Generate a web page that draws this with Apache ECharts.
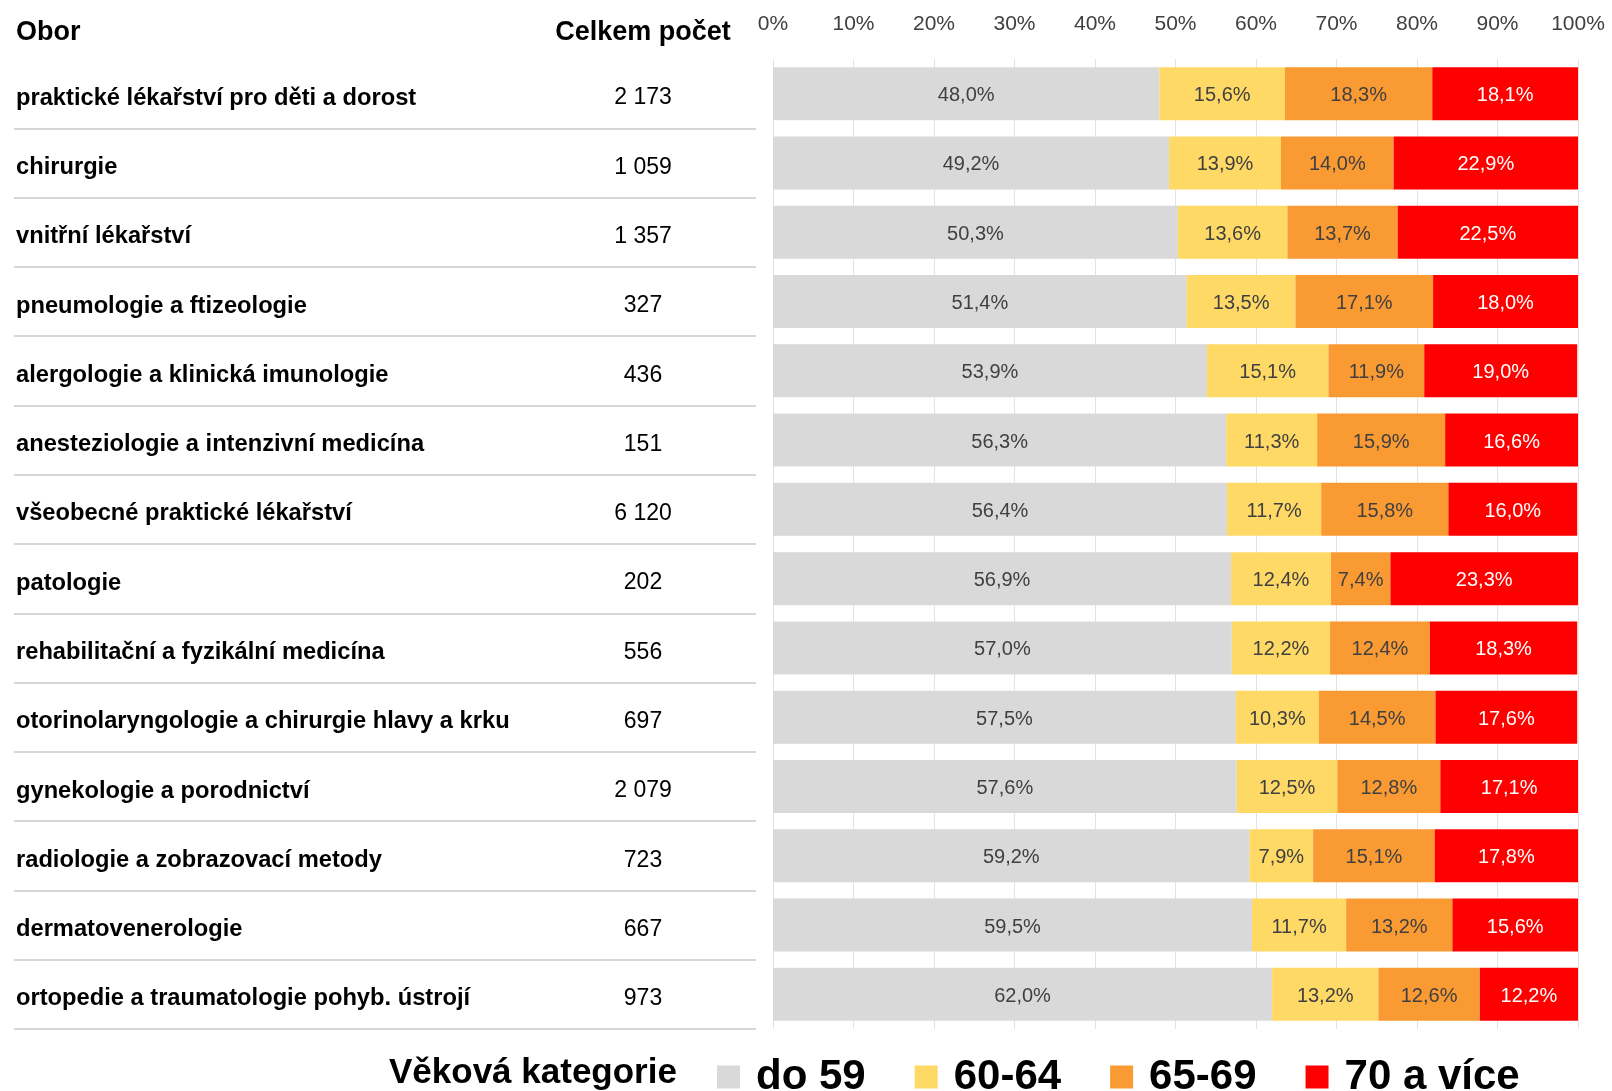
<!DOCTYPE html>
<html>
<head>
<meta charset="utf-8">
<title>Věková kategorie</title>
<script src="https://cdn.jsdelivr.net/npm/echarts@6/dist/echarts.min.js"></script>
<style>
	html, body { margin: 0; padding: 0; background: #fff; }
	#chart { width: 1612px; height: 1091px; }
</style>
</head>
<body>
<div id="chart"></div>
<script>
var obory = ['praktické lékařství pro děti a dorost', 'chirurgie', 'vnitřní lékařství', 'pneumologie a ftizeologie',
	'alergologie a klinická imunologie', 'anesteziologie a intenzivní medicína', 'všeobecné praktické lékařství',
	'patologie', 'rehabilitační a fyzikální medicína', 'otorinolaryngologie a chirurgie hlavy a krku',
	'gynekologie a porodnictví', 'radiologie a zobrazovací metody', 'dermatovenerologie',
	'ortopedie a traumatologie pohyb. ústrojí'];
var pocty = ['2 173', '1 059', '1 357', '327', '436', '151', '6 120', '202', '556', '697', '2 079', '723', '667', '973'];
var do59 = [48.0, 49.2, 50.3, 51.4, 53.9, 56.3, 56.4, 56.9, 57.0, 57.5, 57.6, 59.2, 59.5, 62.0];
var v6064 = [15.6, 13.9, 13.6, 13.5, 15.1, 11.3, 11.7, 12.4, 12.2, 10.3, 12.5, 7.9, 11.7, 13.2];
var v6569 = [18.3, 14.0, 13.7, 17.1, 11.9, 15.9, 15.8, 7.4, 12.4, 14.5, 12.8, 15.1, 13.2, 12.6];
var v70 = [18.1, 22.9, 22.5, 18.0, 19.0, 16.6, 16.0, 23.3, 18.3, 17.6, 17.1, 17.8, 15.6, 12.2];

var font = "'Liberation Sans', Arial, sans-serif";
var chart = echarts.init(document.getElementById('chart'));

function pct(p) {
	return p.value.toFixed(1).replace('.', ',') + '%';
}

function serie(name, data, color, textColor) {
	return {
		name: name,
		type: 'bar',
		stack: 'vek',
		barWidth: 53,
		xAxisIndex: 0,
		yAxisIndex: 0,
		itemStyle: { color: color },
		label: {
			show: true,
			position: 'inside',
			offset: [0, 2],
			formatter: pct,
			color: textColor,
			fontFamily: font,
			fontSize: 20
		},
		emphasis: { disabled: true },
		data: data
	};
}

var option = {
	backgroundColor: '#fff',
	animation: false,
	textStyle: { fontFamily: font },
	title: [
		{ text: 'Obor', left: 16, top: 19, padding: 0,
			textStyle: { fontFamily: font, fontSize: 27, fontWeight: 'bold', color: '#000' } },
		{ text: 'Celkem počet', left: 643, top: 19, padding: 0, textAlign: 'center',
			textStyle: { fontFamily: font, fontSize: 27, fontWeight: 'bold', color: '#000' } },
		{ text: 'Věková kategorie', left: 389, top: 1056, padding: 0,
			textStyle: { fontFamily: font, fontSize: 35, fontWeight: 'bold', color: '#000' } }
	],
	legend: {
		left: 717,
		top: 1056,
		padding: 0,
		icon: 'rect',
		itemWidth: 23,
		itemHeight: 23,
		itemGap: 49,
		textStyle: { fontFamily: font, fontSize: 42, fontWeight: 'bold', color: '#000', padding: [0, 0, 0, 11] },
		data: ['do 59', '60-64', '65-69', '70 a více']
	},
	grid: [
		{ left: 773, width: 805, top: 59, height: 970 },   // sloupce
		{ left: 14, width: 742, top: 59, height: 970 }     // tabulka vlevo
	],
	xAxis: [
		{
			type: 'value',
			gridIndex: 0,
			position: 'top',
			min: 0,
			max: 100,
			interval: 10,
			axisLabel: { formatter: '{value}%', color: '#404040', fontSize: 21, margin: 24 },
			axisLine: { show: false },
			axisTick: { show: false },
			splitLine: { show: true, lineStyle: { color: '#e3e3e3', width: 1 } }
		},
		{ type: 'value', gridIndex: 1, show: false, min: 0, max: 1 }
	],
	yAxis: [
		{
			type: 'category',
			gridIndex: 0,
			inverse: true,
			data: obory,
			axisLabel: { show: false },
			axisLine: { show: false },
			axisTick: { show: false },
			splitLine: { show: false }
		},
		{
			type: 'category',
			gridIndex: 1,
			inverse: true,
			data: obory,
			axisLine: { show: false },
			axisTick: { show: false },
			splitLine: {   // oddelovaci cary radku
				show: true,
				showMinLine: false,
				lineStyle: { color: '#d6d6d6', width: 2 }
			},
			axisLabel: {
				inside: true,
				margin: 2,
				formatter: function(v, i) {
					return '{n|' + v + '}{c|' + pocty[i] + '}';
				},
				rich: {
					n: { width: 560, align: 'left', padding: [9, 0, 0, 0], fontFamily: font, fontSize: 23.7, fontWeight: 'bold', color: '#000' },
					c: { width: 134, align: 'center', padding: [9, 0, 0, 0], fontFamily: font, fontSize: 23, color: '#000' }
				}
			}
		}
	],
	series: [
		serie('do 59', do59, '#d9d9d9', '#404040'),
		serie('60-64', v6064, '#ffd966', '#404040'),
		serie('65-69', v6569, '#fa9a33', '#404040'),
		serie('70 a více', v70, '#ff0000', '#ffffff')
	]
};

chart.setOption(option);

window.onresize = function() {
	chart.resize();
};
</script>
</body>
</html>
